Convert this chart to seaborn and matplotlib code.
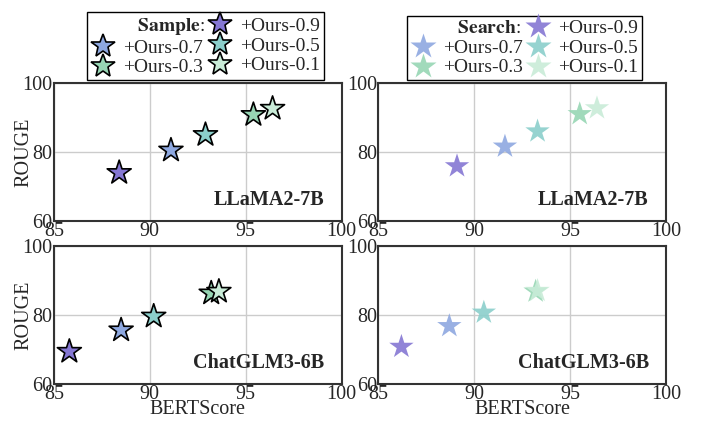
import numpy as np
import pandas as pd
import matplotlib
matplotlib.use('Agg')
import matplotlib.pyplot as plt
from matplotlib.lines import Line2D
from matplotlib.ticker import MultipleLocator
import seaborn as sns

# data
levels = ['+Ours-0.9', '+Ours-0.7', '+Ours-0.5', '+Ours-0.3', '+Ours-0.1']
colors = ['#8577d3', '#8ea8e0', '#8bcfcb', '#97d6b4', '#c9ecd8']

llama_sample_bert = [88.4, 91.1, 92.9, 95.4, 96.4]
llama_sample_rouge = [74.0, 80.5, 85.0, 90.8, 92.6]
llama_search_bert = [89.1, 91.6, 93.3, 95.5, 96.4]
llama_search_rouge = [75.9, 81.6, 86.0, 91.0, 92.7]
glm_sample_bert = [85.8, 88.5, 90.2, 93.2, 93.6]
glm_sample_rouge = [69.4, 75.6, 79.6, 86.3, 86.8]
glm_search_bert = [86.2, 88.7, 90.5, 93.2, 93.3]
glm_search_rouge = [70.8, 76.8, 80.7, 86.8, 87.0]

panels = [
    ('LLaMA2-7B', 'Sample', llama_sample_bert, llama_sample_rouge),
    ('LLaMA2-7B', 'Search', llama_search_bert, llama_search_rouge),
    ('ChatGLM3-6B', 'Sample', glm_sample_bert, glm_sample_rouge),
    ('ChatGLM3-6B', 'Search', glm_search_bert, glm_search_rouge),
]

sns.set_style('white')
plt.rcParams['font.family'] = ['Liberation Serif', 'DejaVu Serif']
plt.rcParams['mathtext.fontset'] = 'stix'
fs = 14.5

fig, axes = plt.subplots(2, 2, figsize=(7.09, 4.24), dpi=100)
fig.subplots_adjust(left=54/709, right=666/709, top=1-83/424, bottom=1-384/424,
                    wspace=0.128, hspace=0.18)

for ax, (model, mode, bert, rouge) in zip(axes.flat, panels):
    df = pd.DataFrame({'BERTScore': bert, 'ROUGE': rouge, 'level': levels})
    if mode == 'Sample':
        sns.scatterplot(data=df, x='BERTScore', y='ROUGE', hue='level',
                        palette=colors, hue_order=levels, marker='*', s=330,
                        edgecolor='black', linewidth=1.2, legend=False, ax=ax, zorder=3)
    else:
        sns.scatterplot(data=df, x='BERTScore', y='ROUGE', hue='level',
                        palette=colors, hue_order=levels, marker='*', s=340,
                        edgecolor='none', alpha=0.9, legend=False, ax=ax, zorder=3)
    ax.set_xlim(85, 100)
    ax.set_ylim(60, 100)
    ax.xaxis.set_major_locator(MultipleLocator(5))
    ax.xaxis.set_minor_locator(MultipleLocator(2.5))
    ax.yaxis.set_major_locator(MultipleLocator(20))
    ax.yaxis.set_minor_locator(MultipleLocator(10))
    ax.grid(True, which='major', color='#cccccc', linewidth=1)
    ax.set_axisbelow(True)
    ax.tick_params(which='both', direction='in', labelsize=fs, pad=1, color='#333333')
    ax.tick_params(which='major', length=0)
    ax.tick_params(which='minor', length=3, width=1)
    for sp in ax.spines.values():
        sp.set_color('#333333')
        sp.set_linewidth(1.5)
    ax.text(0.94, 0.08, model, transform=ax.transAxes, ha='right', va='bottom',
            fontsize=fs, fontweight='bold')
    ax.set_xlabel('BERTScore' if ax in axes[1] else '', fontsize=fs, labelpad=-3)
    ax.set_ylabel('ROUGE' if ax in axes[:, 0] else '', fontsize=fs, labelpad=-8)

# legends
for ax, mode, cx in [(axes[0, 0], 'Sample', 0.528), (axes[0, 1], 'Search', 0.509)]:
    if mode == 'Sample':
        hs = [Line2D([], [], marker='*', ls='', ms=18, mfc=c, mec='black', mew=1.2)
              for c in colors]
    else:
        hs = [Line2D([], [], marker='*', ls='', ms=19, mfc=c, mec='none', alpha=0.9)
              for c in colors]
    blank = Line2D([], [], ls='', marker='')
    handles = [blank, hs[1], hs[3], hs[0], hs[2], hs[4]]
    labels = ['   $\\mathbf{' + mode + '}$:', levels[1], levels[3],
              levels[0], levels[2], levels[4]]
    leg = ax.legend(handles, labels, ncol=2, loc='lower center',
                    bbox_to_anchor=(cx, 1.02), fontsize=14, frameon=True,
                    fancybox=False, edgecolor='black', framealpha=1,
                    handlelength=1.2, handletextpad=0.45, columnspacing=0.15,
                    labelspacing=0.1, borderpad=0.2, borderaxespad=0)
    leg.get_frame().set_linewidth(1.0)

fig.savefig('out.png', dpi=100)
